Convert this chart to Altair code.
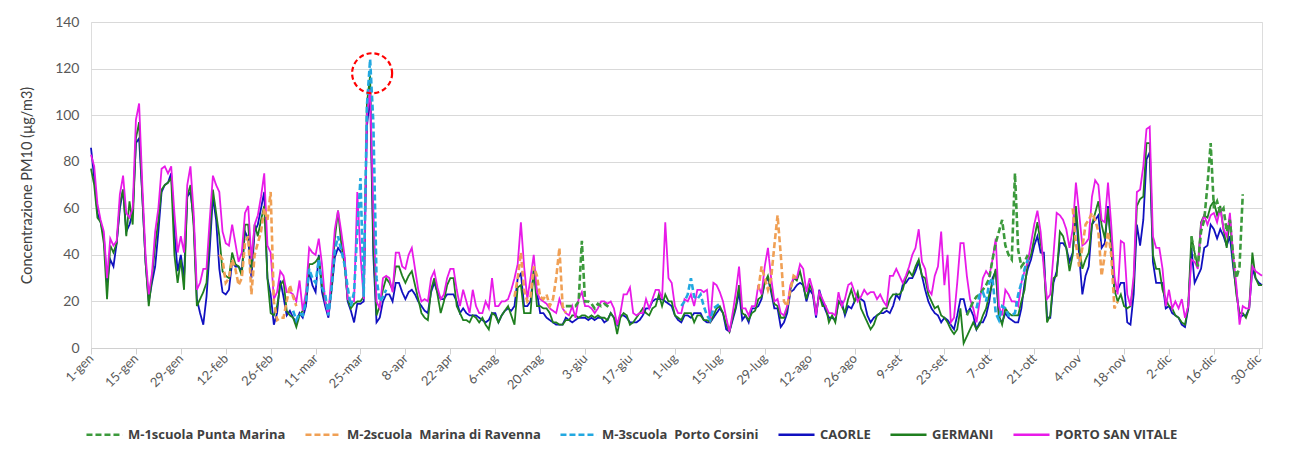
import altair as alt
import pandas as pd

# ---------------- data (2020, day 0 = 1 January) ----------------
tick_labels = ["1-gen", "15-gen", "29-gen", "12-feb", "26-feb", "11-mar", "25-mar", "8-apr",
               "22-apr", "6-mag", "20-mag", "3-giu", "17-giu", "1-lug", "15-lug", "29-lug",
               "12-ago", "26-ago", "9-set", "23-set", "7-ott", "21-ott", "4-nov", "18-nov",
               "2-dic", "16-dic", "30-dic"]
tick_days = [i * 14 for i in range(len(tick_labels))]

caorle = [
    86, 73, 58, 54, 48, 28, 38, 35, 45, 60,
    68, 50, 53, 58, 88, 90, 65, 37, 20, 28,
    35, 50, 67, 70, 71, 75, 50, 33, 40, 30,
    65, 67, 55, 21, 15, 10, 22, 42, 65, 55,
    34, 24, 23, 25, 37, 35, 35, 33, 50, 47,
    30, 50, 53, 60, 67, 30, 23, 10, 15, 29,
    22, 14, 16, 13, 11, 15, 13, 18, 33, 27,
    24, 40, 24, 18, 13, 25, 39, 43, 41, 39,
    20, 16, 11, 19, 19, 20, 95, 109, 40, 11,
    13, 20, 23, 23, 20, 28, 28, 24, 21, 24,
    25, 23, 20, 18, 16, 15, 24, 28, 24, 21,
    21, 23, 23, 23, 20, 15, 17, 15, 14, 14,
    14, 13, 12, 11, 12, 15, 15, 11, 14, 16,
    17, 16, 18, 30, 32, 18, 18, 20, 33, 24,
    15, 15, 13, 12, 11, 10, 10, 10, 13, 12,
    11, 12, 13, 13, 13, 12, 13, 12, 13, 13,
    11, 12, 15, 13, 10, 14, 14, 13, 11, 11,
    11, 12, 14, 17, 17, 20, 21, 21, 21, 20,
    19, 18, 14, 12, 11, 14, 14, 13, 15, 15,
    15, 12, 11, 11, 13, 15, 17, 15, 8, 7,
    12, 17, 24, 12, 14, 11, 17, 17, 18, 21,
    28, 30, 24, 17, 17, 9, 11, 15, 24, 25,
    27, 28, 27, 20, 25, 23, 13, 25, 20, 16,
    13, 13, 12, 20, 20, 14, 18, 17, 20, 22,
    21, 20, 14, 11, 13, 14, 15, 15, 16, 15,
    18, 23, 21, 27, 28, 30, 30, 33, 37, 31,
    25, 20, 17, 15, 14, 11, 13, 12, 10, 8,
    14, 21, 21, 15, 17, 14, 8, 11, 11, 14,
    20, 30, 33, 13, 11, 15, 13, 12, 11, 11,
    17, 28, 34, 38, 44, 48, 41, 41, 13, 13,
    28, 33, 45, 45, 43, 37, 41, 58, 40, 23,
    31, 35, 53, 55, 57, 43, 45, 61, 43, 24,
    25, 28, 28, 11, 10, 23, 53, 44, 55, 81,
    84, 37, 28, 28, 28, 17, 18, 15, 14, 13,
    10, 9, 17, 43, 28, 31, 34, 43, 44, 53,
    51, 47, 51, 48, 44, 48, 35, 25, 13, 14,
    14, 17, 34, 30, 28, 27]

germani = [
    77, 70, 56, 54, 45, 21, 44, 41, 45, 62,
    68, 48, 63, 53, 90, 97, 65, 37, 18, 30,
    44, 55, 68, 70, 71, 73, 40, 28, 38, 25,
    65, 70, 52, 18, 21, 24, 28, 48, 68, 58,
    48, 33, 31, 30, 41, 36, 35, 31, 53, 53,
    34, 53, 48, 55, 61, 30, 15, 14, 18, 27,
    29, 16, 14, 13, 9, 14, 16, 21, 36, 36,
    37, 39, 27, 20, 15, 27, 47, 59, 45, 36,
    21, 17, 19, 20, 20, 22, 105, 117, 45, 14,
    18, 25, 30, 28, 25, 35, 35, 31, 28, 31,
    33, 27, 21, 15, 13, 12, 25, 30, 23, 15,
    20, 27, 30, 30, 18, 15, 12, 12, 11, 14,
    13, 11, 13, 10, 8, 15, 14, 11, 14, 16,
    18, 14, 10, 26, 27, 15, 15, 15, 34, 18,
    18, 17, 17, 15, 11, 11, 10, 10, 12, 12,
    14, 14, 13, 14, 14, 13, 14, 13, 14, 13,
    13, 12, 15, 13, 6, 13, 15, 14, 10, 11,
    13, 15, 17, 15, 14, 17, 18, 23, 18, 23,
    20, 20, 14, 13, 12, 15, 15, 15, 11, 14,
    14, 12, 12, 11, 14, 17, 18, 15, 10, 7,
    13, 18, 27, 15, 14, 12, 15, 16, 21, 22,
    28, 31, 25, 19, 18, 13, 13, 17, 25, 30,
    29, 33, 27, 21, 27, 24, 15, 23, 18, 18,
    11, 14, 11, 20, 18, 15, 21, 25, 20, 24,
    17, 14, 11, 8, 10, 14, 15, 17, 17, 21,
    23, 23, 23, 25, 30, 33, 31, 35, 38, 31,
    30, 23, 20, 17, 18, 14, 13, 11, 8, 6,
    8, 17, 2, 5, 8, 11, 8, 10, 14, 17,
    23, 28, 34, 14, 10, 17, 15, 14, 14, 14,
    20, 25, 37, 40, 47, 54, 45, 37, 11, 14,
    30, 31, 50, 48, 43, 33, 40, 61, 44, 34,
    38, 41, 53, 58, 63, 53, 47, 60, 43, 25,
    20, 23, 18, 17, 18, 28, 61, 64, 65, 88,
    88, 40, 34, 34, 25, 21, 18, 17, 14, 13,
    11, 10, 18, 48, 41, 35, 54, 57, 56, 61,
    63, 57, 61, 51, 43, 56, 37, 23, 15, 15,
    13, 17, 41, 30, 27, 27]

porto_san_vitale = [
    83, 78, 62, 55, 50, 30, 47, 44, 46, 66,
    74, 58, 56, 60, 98, 105, 70, 40, 23, 32,
    50, 60, 77, 78, 75, 78, 58, 41, 48, 41,
    70, 78, 58, 25, 28, 34, 34, 55, 74, 70,
    67, 50, 45, 44, 53, 45, 37, 41, 58, 61,
    38, 53, 57, 65, 75, 44, 41, 21, 24, 33,
    31, 24, 24, 23, 20, 29, 16, 24, 43, 41,
    40, 47, 36, 20, 14, 33, 51, 59, 50, 40,
    21, 20, 20, 67, 40, 21, 100, 111, 60, 20,
    17, 30, 31, 30, 24, 41, 41, 35, 34, 40,
    43, 34, 25, 20, 21, 20, 30, 33, 26, 21,
    23, 30, 34, 34, 25, 18, 25, 20, 15, 25,
    18, 15, 15, 20, 17, 30, 18, 18, 20, 20,
    21, 25, 30, 36, 54, 35, 21, 30, 40, 24,
    21, 20, 19, 17, 16, 15, 21, 17, 15, 14,
    18, 13, 21, 24, 18, 18, 17, 15, 17, 20,
    20, 19, 20, 17, 10, 15, 23, 23, 26, 15,
    14, 15, 15, 21, 17, 21, 25, 25, 21, 54,
    30, 28, 18, 15, 15, 21, 20, 23, 18, 25,
    25, 24, 25, 11, 28, 27, 24, 20, 13, 7,
    15, 24, 35, 17, 17, 14, 18, 18, 27, 23,
    35, 43, 30, 20, 21, 15, 14, 18, 27, 30,
    30, 36, 34, 24, 30, 25, 14, 24, 21, 18,
    15, 15, 14, 24, 18, 21, 27, 28, 24, 20,
    22, 25, 23, 24, 24, 21, 23, 20, 18, 31,
    31, 34, 31, 28, 31, 35, 40, 43, 51, 37,
    34, 25, 23, 31, 35, 50, 27, 40, 11, 13,
    28, 45, 45, 31, 21, 17, 11, 20, 30, 33,
    31, 38, 47, 18, 14, 25, 23, 20, 20, 18,
    28, 33, 37, 45, 53, 59, 50, 34, 21, 23,
    40, 58, 57, 55, 51, 43, 51, 71, 58, 44,
    45, 47, 65, 72, 70, 55, 54, 71, 53, 31,
    23, 46, 45, 23, 18, 31, 67, 68, 78, 94,
    95, 48, 43, 43, 34, 18, 25, 17, 20, 17,
    21, 13, 18, 38, 37, 34, 53, 57, 53, 57,
    58, 54, 60, 51, 48, 58, 40, 27, 10, 18,
    17, 17, 35, 33, 32, 31]

# partial (dashed) stations: (first day, values)
m1_segments = [
    (148, [18, 18, 18, 18, 20, 46, 20, 20, 19, 17, 19, 18, 19, 18, 17]),
    (273, [14, 17, 20, 22, 23, 25, 27, 30, 38, 45, 50, 55, 44, 40, 38, 75, 42, 35, 37, 40]),
    (343, [48, 40, 35, 50, 55, 70, 88, 60, 63, 58, 60, 50, 55, 40, 30, 35, 66]),
]
m2_segments = [
    (40, [40, 38, 28, 30, 38, 34, 27, 30, 45, 48, 23, 40, 45, 50, 60, 55, 67, 20, 12, 13,
          13, 20, 27, 22, 18]),
    (132, [22, 30, 41, 25, 20, 22, 35, 31, 22, 21, 23, 18, 21, 30, 43, 18, 15]),
    (208, [25, 35, 30, 25, 30, 44, 57, 40, 20, 18, 25, 31, 30]),
    (306, [60, 45, 35, 43, 53, 55, 58, 55, 50, 31, 40, 50, 40, 17, 20]),
]
m3_segments = [
    (63, [16, 12, 15, 14, 20, 34, 30, 28, 38, 26, 23, 14, 26, 42, 48, 42, 36, 26, 18, 24,
          50, 73, 22, 104, 124, 97, 30, 20, 22, 25]),
    (184, [18, 20, 23, 30, 22, 21, 23, 18, 14, 12, 17, 18, 19]),
    (276, [17, 23, 24, 20, 28, 30, 15, 12, 18, 17, 14, 14, 15, 23, 28, 34, 38]),
]

names = ["M-1scuola Punta Marina", "M-2scuola\u00a0 Marina di Ravenna", "M-3scuola\u00a0 Porto Corsini",
         "CAORLE", "GERMANI", "PORTO SAN VITALE"]
colors = ["#3c9a3c", "#f0a055", "#22a8e0", "#1010c0", "#1f7f1f", "#e81ae8"]
dashes = [[6, 3], [6, 3], [6, 3], [1, 0], [1, 0], [1, 0]]
widths = [2.6, 2.6, 2.6, 1.8, 1.8, 1.8]

# ---------------- build table ----------------
rows = []
for name, vals in [("CAORLE", caorle), ("GERMANI", germani), ("PORTO SAN VITALE", porto_san_vitale)]:
    for d, v in enumerate(vals):
        rows.append({"day": d, "val": v, "series": name, "seg": 0})
for name, segs in [(names[0], m1_segments), (names[1], m2_segments), (names[2], m3_segments)]:
    for k, (start, vals) in enumerate(segs):
        for i, v in enumerate(vals):
            rows.append({"day": start + i, "val": v, "series": name, "seg": k})
df = pd.DataFrame(rows)

legend = alt.Legend(orient="none", legendX=-6, legendY=393, direction="horizontal", title=None,
                    symbolType="stroke", symbolSize=1300, symbolStrokeWidth=2.5,
                    labelFontSize=13, labelFontWeight="bold", labelColor="#404040",
                    labelFont="Open Sans", columnPadding=14, labelLimit=400, labelOffset=4)

label_expr = "[" + ",".join("'" + t + "'" for t in tick_labels) + "][round(datum.value/14)]"

x_enc = alt.X("day:Q", scale=alt.Scale(domain=[0, 365], nice=False, zero=False),
              axis=alt.Axis(values=tick_days, labelExpr=label_expr, labelAngle=-45,
                            labelAlign="right", labelBaseline="middle", grid=False,
                            ticks=True, tickSize=6, tickColor="#d0d0d0", domainColor="#d0d0d0",
                            labelColor="#595959", labelFontSize=13, labelFont="Lato",
                            labelPadding=2, title=None))
y_enc = alt.Y("val:Q", scale=alt.Scale(domain=[0, 140], nice=False),
              axis=alt.Axis(values=list(range(0, 141, 20)), grid=True, gridColor="#d9d9d9",
                            domain=False, ticks=False, labelColor="#595959", labelFontSize=14,
                            labelFont="Lato", labelPadding=12,
                            title="Concentrazione PM10 (µg/m3)", titleFontWeight="normal",
                            titleFontSize=14.5, titleFont="Lato", titleColor="#404040",
                            titlePadding=20))

base = alt.Chart(df).encode(
    x=x_enc,
    y=y_enc,
    color=alt.Color("series:N", scale=alt.Scale(domain=names, range=colors), legend=legend),
    strokeDash=alt.StrokeDash("series:N", scale=alt.Scale(domain=names, range=dashes), legend=legend),
    detail="seg:N",
)

draw_order = [3, 4, 5, 0, 1, 2]
layers = []
for i in draw_order:
    layers.append(base.mark_line(strokeWidth=widths[i]).transform_filter(alt.datum.series == names[i]))

circle = alt.Chart(df).transform_filter(alt.datum.series == names[2]).transform_joinaggregate(
    peak="max(val)").transform_filter("datum.val == datum.peak").mark_point(
    shape="circle", size=1600, filled=False, color="#ff0000", strokeWidth=2.2,
    strokeDash=[5, 3], yOffset=14, xOffset=2, opacity=1).encode(x="day:Q", y="val:Q")

chart = alt.layer(*layers, circle).properties(
    width=1171, height=326,
    autosize=alt.AutoSizeParams(type="none"),
    padding={"left": 83, "top": 14, "right": 21, "bottom": 96},
    background="white",
).configure_view(stroke=None).configure(font="Lato")

chart.save("out.html", embed_options={"renderer": "svg", "actions": False})
